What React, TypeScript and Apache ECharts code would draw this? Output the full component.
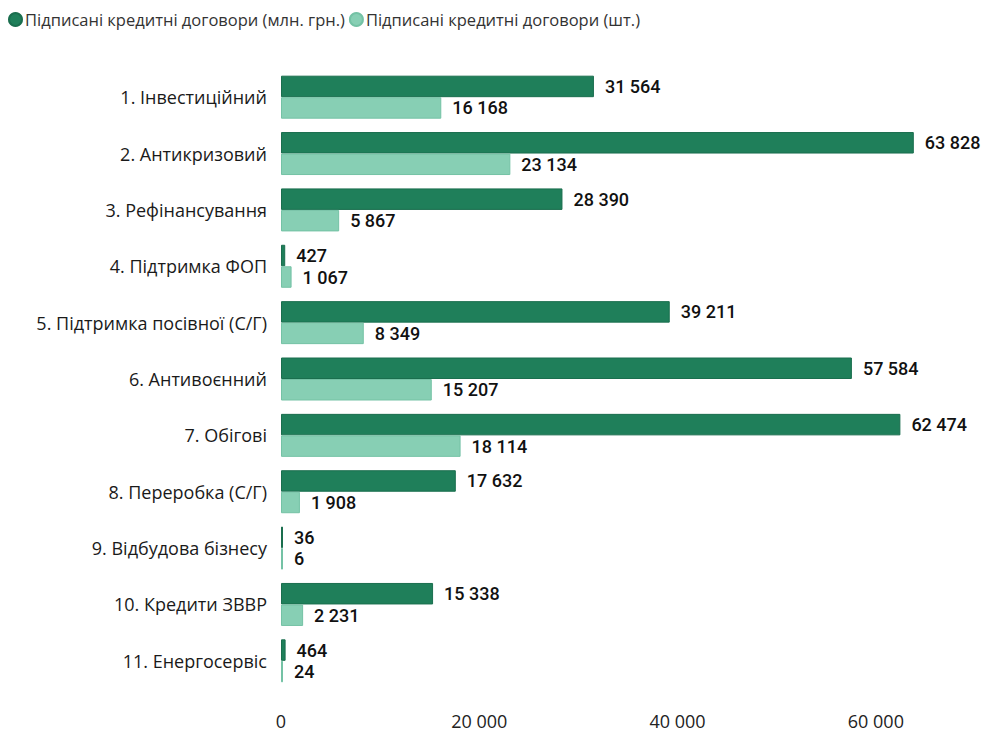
import React, { useEffect, useRef } from "react";
import * as echarts from "echarts";

const categories = [
  "1. Інвестиційний",
  "2. Антикризовий",
  "3. Рефінансування",
  "4. Підтримка ФОП",
  "5. Підтримка посівної (С/Г)",
  "6. Антивоєнний",
  "7. Обігові",
  "8. Переробка (С/Г)",
  "9. Відбудова бізнесу",
  "10. Кредити ЗВВР",
  "11. Енергосервіс",
];
const amountMln = [31564, 63828, 28390, 427, 39211, 57584, 62474, 17632, 36, 15338, 464];
const countPcs = [16168, 23134, 5867, 1067, 8349, 15207, 18114, 1908, 6, 2231, 24];
const seriesNames = [
  "Підписані кредитні договори (млн. грн.)",
  "Підписані кредитні договори (шт.)",
];

const fmt = (v: number) => String(v).replace(/\B(?=(\d{3})+(?!\d))/g, " ");

export default function App() {
  const ref = useRef<HTMLDivElement>(null);
  useEffect(() => {
    document.body.style.margin = "0";
    const chart = echarts.init(ref.current!, null, { renderer: "svg" });
    const label = {
      show: true,
      position: "right",
      distance: 11,
      fontFamily: "Roboto",
      fontSize: 18,
      fontWeight: 500,
      color: "#111",
      formatter: (p: any) => fmt(p.value),
    };
    chart.setOption({
      animation: false,
      legend: {
        left: 8,
        top: 11,
        padding: 0,
        itemWidth: 13,
        itemHeight: 13,
        itemGap: 4,
        icon: "circle",
        textStyle: { fontFamily: "Open Sans", fontSize: 16.5, color: "#333", padding: [0, 0, 0, -2] },
        data: seriesNames,
      },
      grid: { left: 281, right: 9, top: 69, bottom: 44, containLabel: false },
      xAxis: {
        type: "value",
        min: 0,
        max: 70000,
        interval: 20000,
        axisLine: { show: false },
        axisTick: { show: false },
        splitLine: { show: false },
        axisLabel: {
          margin: 23,
          fontFamily: "Open Sans",
          fontSize: 18,
          color: "#222",
          formatter: (v: number) => (v > 60000 ? "" : fmt(v)),
        },
      },
      yAxis: {
        type: "category",
        inverse: true,
        data: categories,
        axisLine: { show: false },
        axisTick: { show: false },
        axisLabel: {
          margin: 14,
          fontFamily: "Open Sans",
          fontSize: 18,
          color: "#1a1a1a",
        },
      },
      series: [
        {
          name: seriesNames[0],
          type: "bar",
          data: amountMln,
          barWidth: 21.5,
          barGap: "0%",
          barMinHeight: 2,
          itemStyle: { color: "#1f7f5a", borderColor: "#1a6e4e", borderWidth: 1 },
          label,
        },
        {
          name: seriesNames[1],
          type: "bar",
          data: countPcs,
          barWidth: 21.5,
          barGap: "0%",
          barMinHeight: 2,
          itemStyle: { color: "#87cfb4", borderColor: "#74c2a5", borderWidth: 1 },
          label,
        },
      ],
    });
    return () => chart.dispose();
  }, []);
  return <div ref={ref} style={{ width: 984, height: 733 }} />;
}
